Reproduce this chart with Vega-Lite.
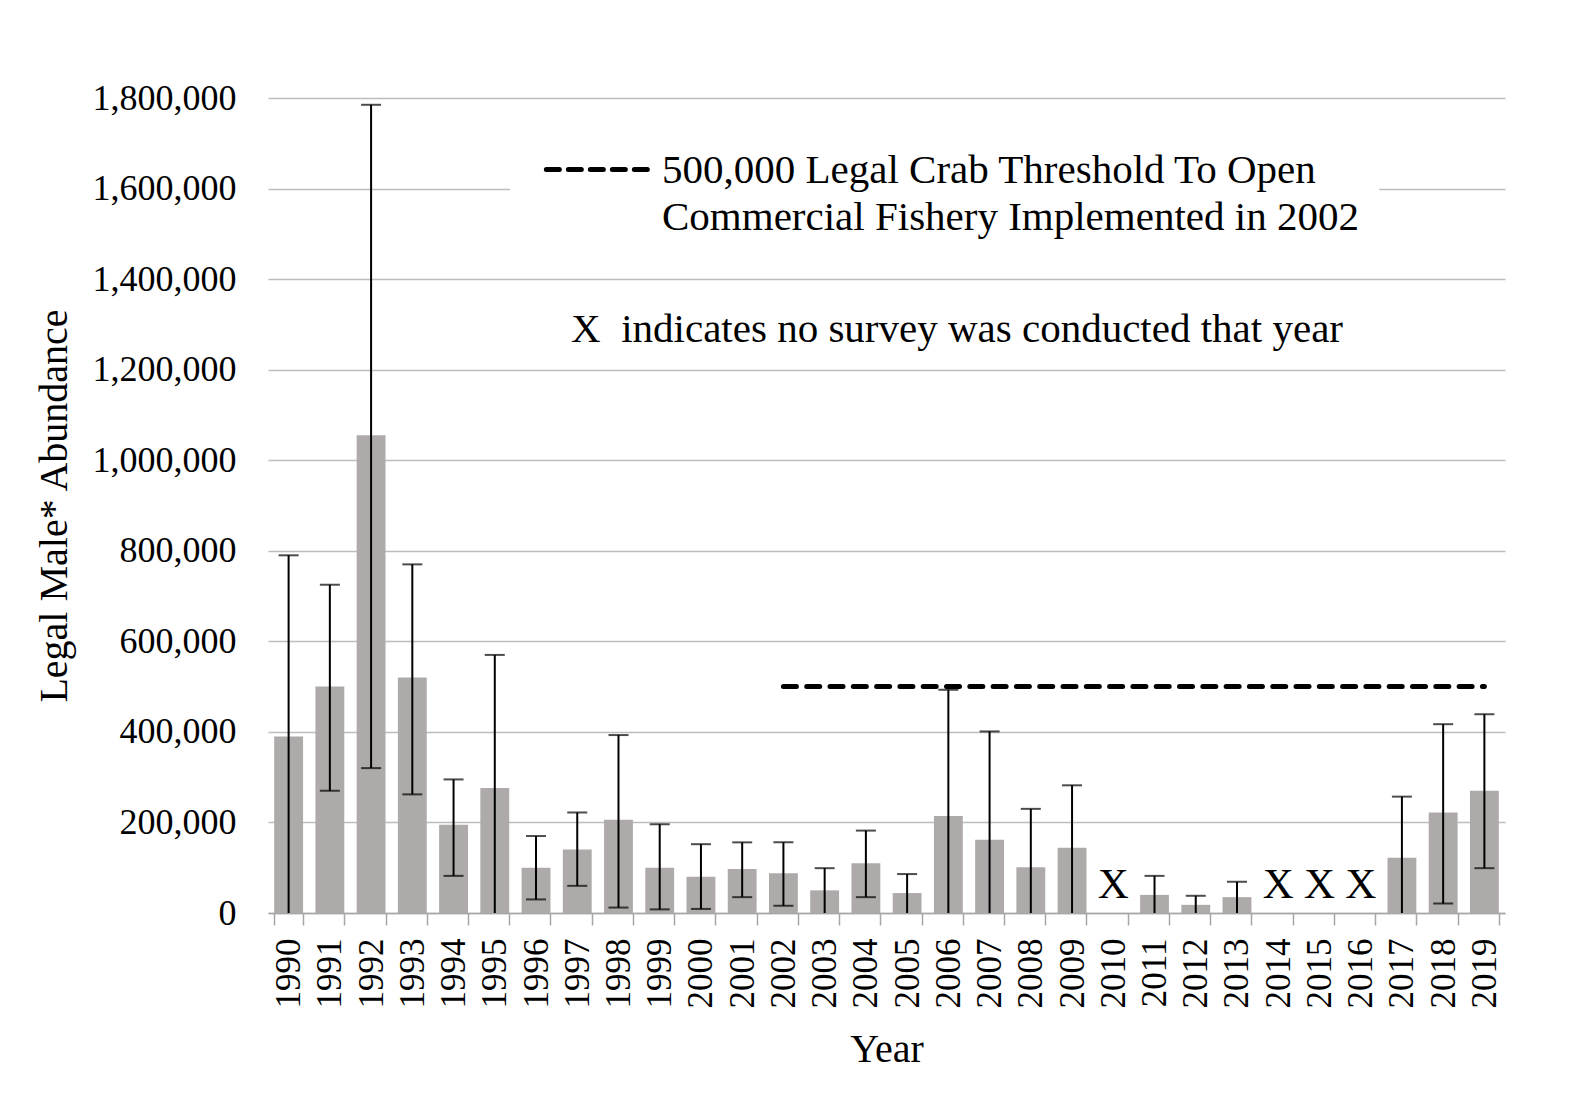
{
  "$schema": "https://vega.github.io/schema/vega-lite/v6.json",
  "width": 1237,
  "height": 815,
  "autosize": {"type": "none"},
  "padding": {"left": 268, "top": 98, "right": 65, "bottom": 186},
  "background": "white",
  "config": {
    "font": "Liberation Serif",
    "view": {"stroke": null},
    "axis": {"labelColor": "black", "titleColor": "black", "titleFontWeight": "normal"},
    "axisY": {
      "titleFontSize": 40,
      "titlePadding": 18,
      "labelFontSize": 36,
      "labelPadding": 32,
      "ticks": false,
      "domain": false,
      "grid": true,
      "gridColor": "#bdbdbd",
      "gridWidth": 1.5,
      "format": ",.0f"
    }
  },
  "datasets": {
    "crab": [
      {"year": "1990", "abundance": 390000, "lo": 0, "hi": 790000, "survey": true, "threshold": null},
      {"year": "1991", "abundance": 500000, "lo": 270000, "hi": 725000, "survey": true, "threshold": null},
      {"year": "1992", "abundance": 1055000, "lo": 320000, "hi": 1785000, "survey": true, "threshold": null},
      {"year": "1993", "abundance": 520000, "lo": 262000, "hi": 770000, "survey": true, "threshold": null},
      {"year": "1994", "abundance": 195000, "lo": 82000, "hi": 295000, "survey": true, "threshold": null},
      {"year": "1995", "abundance": 276000, "lo": 0, "hi": 570000, "survey": true, "threshold": null},
      {"year": "1996", "abundance": 100000, "lo": 30000, "hi": 170000, "survey": true, "threshold": null},
      {"year": "1997", "abundance": 140000, "lo": 60000, "hi": 222000, "survey": true, "threshold": null},
      {"year": "1998", "abundance": 206000, "lo": 12000, "hi": 393000, "survey": true, "threshold": null},
      {"year": "1999", "abundance": 100000, "lo": 8000, "hi": 196000, "survey": true, "threshold": null},
      {"year": "2000", "abundance": 80000, "lo": 9000, "hi": 152000, "survey": true, "threshold": null},
      {"year": "2001", "abundance": 97000, "lo": 35000, "hi": 156000, "survey": true, "threshold": null},
      {"year": "2002", "abundance": 88000, "lo": 16000, "hi": 156000, "survey": true, "threshold": 500000},
      {"year": "2003", "abundance": 50000, "lo": 0, "hi": 99000, "survey": true, "threshold": 500000},
      {"year": "2004", "abundance": 110000, "lo": 35000, "hi": 182000, "survey": true, "threshold": 500000},
      {"year": "2005", "abundance": 44000, "lo": 0, "hi": 86000, "survey": true, "threshold": 500000},
      {"year": "2006", "abundance": 214000, "lo": 0, "hi": 493000, "survey": true, "threshold": 500000},
      {"year": "2007", "abundance": 162000, "lo": 0, "hi": 401000, "survey": true, "threshold": 500000},
      {"year": "2008", "abundance": 101000, "lo": 0, "hi": 230000, "survey": true, "threshold": 500000},
      {"year": "2009", "abundance": 144000, "lo": 0, "hi": 282000, "survey": true, "threshold": 500000},
      {"year": "2010", "abundance": null, "lo": null, "hi": null, "survey": false, "threshold": 500000},
      {"year": "2011", "abundance": 40000, "lo": 0, "hi": 82000, "survey": true, "threshold": 500000},
      {"year": "2012", "abundance": 18000, "lo": 0, "hi": 38000, "survey": true, "threshold": 500000},
      {"year": "2013", "abundance": 35000, "lo": 0, "hi": 69000, "survey": true, "threshold": 500000},
      {"year": "2014", "abundance": null, "lo": null, "hi": null, "survey": false, "threshold": 500000},
      {"year": "2015", "abundance": null, "lo": null, "hi": null, "survey": false, "threshold": 500000},
      {"year": "2016", "abundance": null, "lo": null, "hi": null, "survey": false, "threshold": 500000},
      {"year": "2017", "abundance": 122000, "lo": 0, "hi": 257000, "survey": true, "threshold": 500000},
      {"year": "2018", "abundance": 222000, "lo": 21000, "hi": 417000, "survey": true, "threshold": 500000},
      {"year": "2019", "abundance": 270000, "lo": 99000, "hi": 439000, "survey": true, "threshold": 500000}
    ]
  },
  "resolve": {"scale": {"x": "independent"}},
  "layer": [
    {
      "data": {"name": "crab"},
      "encoding": {
        "x": {
          "field": "year",
          "type": "ordinal",
          "scale": {"paddingInner": 0.3, "paddingOuter": 0.15},
          "axis": {
            "title": "Year",
            "titleFontSize": 40,
            "titlePadding": 21,
            "labelAngle": 270,
            "labelFontSize": 35,
            "labelPadding": 13,
            "tickSize": 12,
            "tickBand": "extent",
            "tickColor": "#a6a6a6",
            "tickWidth": 1.5,
            "domainColor": "#a6a6a6",
            "domainWidth": 1.5,
            "grid": false
          }
        }
      },
      "layer": [
        {
          "mark": {"type": "bar", "color": "#aeaaa9"},
          "encoding": {
            "y": {
              "field": "abundance",
              "type": "quantitative",
              "title": "Legal Male* Abundance",
              "scale": {"domain": [0, 1800000], "nice": false},
              "axis": {
                "format": ",.0f",
                "values": [0, 200000, 400000, 600000, 800000, 1000000, 1200000, 1400000, 1600000, 1800000]
              }
            }
          }
        },
        {
          "mark": {"type": "rule", "color": "black", "strokeWidth": 2},
          "encoding": {
            "y": {"field": "lo", "type": "quantitative", "title": "Legal Male* Abundance"},
            "y2": {"field": "hi"}
          }
        },
        {
          "mark": {"type": "tick", "color": "black", "thickness": 2, "size": 20},
          "encoding": {"y": {"field": "hi", "type": "quantitative", "title": "Legal Male* Abundance"}}
        },
        {
          "transform": [{"filter": "datum.lo > 0"}],
          "mark": {"type": "tick", "color": "black", "thickness": 2, "size": 20},
          "encoding": {"y": {"field": "lo", "type": "quantitative", "title": "Legal Male* Abundance"}}
        },
        {
          "transform": [{"filter": "!datum.survey"}],
          "mark": {"type": "text", "text": "X", "fontSize": 43, "baseline": "alphabetic", "align": "center", "dy": -15, "color": "black"},
          "encoding": {"y": {"datum": 0, "type": "quantitative", "title": "Legal Male* Abundance"}}
        },
        {
          "mark": {"type": "line", "color": "black", "strokeWidth": 5, "strokeDash": [13, 10.3], "strokeCap": "round"},
          "encoding": {"y": {"field": "threshold", "type": "quantitative", "title": "Legal Male* Abundance"}}
        }
      ]
    },
    {
      "data": {"values": [{}]},
      "mark": {"type": "rect", "fill": "white"},
      "encoding": {
        "x": {"datum": 5.87, "type": "quantitative", "scale": {"domain": [0, 30], "nice": false, "zero": false}, "axis": null},
        "x2": {"datum": 26.95},
        "y": {"datum": 1450000, "type": "quantitative", "title": "Legal Male* Abundance"},
        "y2": {"datum": 1750000}
      }
    },
    {
      "data": {"values": [{}]},
      "mark": {"type": "rule", "color": "black", "strokeWidth": 5, "strokeDash": [13, 9], "strokeCap": "round"},
      "encoding": {
        "x": {"datum": 6.75, "type": "quantitative", "scale": {"domain": [0, 30], "nice": false, "zero": false}, "axis": null},
        "x2": {"datum": 9.25},
        "y": {"datum": 1642000, "type": "quantitative", "title": "Legal Male* Abundance"}
      }
    },
    {
      "data": {"values": [{}]},
      "mark": {
        "type": "text",
        "text": ["500,000 Legal Crab Threshold To Open", "Commercial Fishery Implemented in 2002"],
        "fontSize": 41,
        "lineHeight": 47,
        "align": "left",
        "baseline": "alphabetic",
        "color": "black"
      },
      "encoding": {
        "x": {"datum": 9.556, "type": "quantitative", "scale": {"domain": [0, 30], "nice": false, "zero": false}, "axis": null},
        "y": {"datum": 1611500, "type": "quantitative", "title": "Legal Male* Abundance"}
      }
    },
    {
      "data": {"values": [{}]},
      "mark": {
        "type": "text",
        "text": "X\u00a0\u00a0indicates no survey was conducted that year",
        "fontSize": 41,
        "align": "left",
        "baseline": "alphabetic",
        "color": "black"
      },
      "encoding": {
        "x": {"datum": 7.35, "type": "quantitative", "scale": {"domain": [0, 30], "nice": false, "zero": false}, "axis": null},
        "y": {"datum": 1260500, "type": "quantitative", "title": "Legal Male* Abundance"}
      }
    }
  ]
}
